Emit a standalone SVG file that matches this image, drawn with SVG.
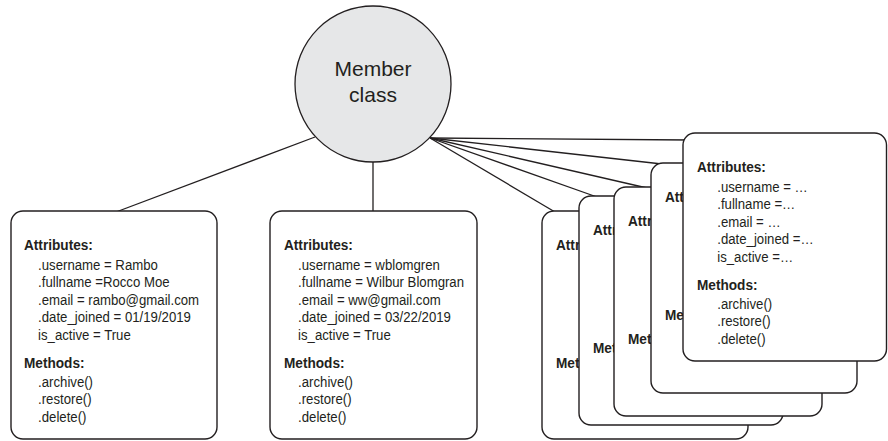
<svg xmlns="http://www.w3.org/2000/svg" width="888" height="441" viewBox="0 0 888 441">
<style>
.box{fill:#fff;stroke:#231f20;stroke-width:1.4}
.ln{stroke:#231f20;stroke-width:1.3;fill:none}
.h{font-family:"Liberation Sans",Arial,sans-serif;font-weight:bold;font-size:15.5px;fill:#231f20}
.t{font-family:"Liberation Sans",Arial,sans-serif;font-size:15px;fill:#231f20}
.c{font-family:"Liberation Sans",Arial,sans-serif;font-size:21px;fill:#231f20;text-anchor:middle}
</style>
<rect width="888" height="441" fill="#fff"/>
<g id="connectors">
<line class="ln" x1="315" y1="137" x2="116" y2="212"/>
<line class="ln" x1="373" y1="162" x2="373" y2="212"/>
<line class="ln" x1="430" y1="138" x2="555" y2="212"/>
<line class="ln" x1="430" y1="138" x2="597" y2="197"/>
<line class="ln" x1="430" y1="138" x2="647" y2="188"/>
<line class="ln" x1="430" y1="138" x2="662" y2="164"/>
<line class="ln" x1="430" y1="138" x2="690" y2="140"/>
</g>
<g id="member-class">
<circle cx="373" cy="84" r="78" fill="#e6e7e8" stroke="#231f20" stroke-width="1.3"/>
<text class="c" x="373" y="76">Member</text>
<text class="c" x="373" y="102">class</text>
</g>
<g id="member-rambo">
<rect class="box" x="11" y="211" width="206" height="228" rx="12"/>
<g transform="translate(24 0) scale(0.88 1)">
<text class="h" x="0" y="250">Attributes:</text>
<text class="t" x="16" y="270">.username = Rambo</text>
<text class="t" x="16" y="287.5">.fullname =Rocco Moe</text>
<text class="t" x="16" y="305">.email = rambo@gmail.com</text>
<text class="t" x="16" y="322.5">.date_joined = 01/19/2019</text>
<text class="t" x="16" y="340">is_active = True</text>
<text class="h" x="0" y="368">Methods:</text>
<text class="t" x="16" y="387">.archive()</text>
<text class="t" x="16" y="404.5">.restore()</text>
<text class="t" x="16" y="422">.delete()</text>
</g>
</g>
<g id="member-wblomgren">
<rect class="box" x="270" y="211" width="207" height="228" rx="12"/>
<g transform="translate(284 0) scale(0.88 1)">
<text class="h" x="0" y="250">Attributes:</text>
<text class="t" x="16" y="270">.username = wblomgren</text>
<text class="t" x="16" y="287.5">.fullname = Wilbur Blomgran</text>
<text class="t" x="16" y="305">.email = ww@gmail.com</text>
<text class="t" x="16" y="322.5">.date_joined = 03/22/2019</text>
<text class="t" x="16" y="340">is_active = True</text>
<text class="h" x="0" y="368">Methods:</text>
<text class="t" x="16" y="387">.archive()</text>
<text class="t" x="16" y="404.5">.restore()</text>
<text class="t" x="16" y="422">.delete()</text>
</g>
</g>
<g id="member-a">
<rect class="box" x="542" y="211" width="206" height="228" rx="12"/>
<g transform="translate(556 0) scale(0.88 1)">
<text class="h" x="0" y="250">Attr</text>
<text class="h" x="0" y="368">Met</text>
</g>
</g>
<g id="member-b">
<rect class="box" x="579" y="196" width="204" height="229" rx="12"/>
<g transform="translate(593 0) scale(0.88 1)">
<text class="h" x="0" y="235">Attr</text>
<text class="h" x="0" y="353">Met</text>
</g>
</g>
<g id="member-c">
<rect class="box" x="614" y="187" width="208" height="229" rx="12"/>
<g transform="translate(628 0) scale(0.88 1)">
<text class="h" x="0" y="226">Attr</text>
<text class="h" x="0" y="344">Met</text>
</g>
</g>
<g id="member-d">
<rect class="box" x="651" y="163" width="206" height="230" rx="12"/>
<g transform="translate(665 0) scale(0.88 1)">
<text class="h" x="0" y="202">Att</text>
<text class="h" x="0" y="320">Me</text>
</g>
</g>
<g id="member-e">
<rect class="box" x="683" y="133" width="203.5" height="228" rx="12"/>
<g transform="translate(697 0) scale(0.88 1)">
<text class="h" x="0" y="172">Attributes:</text>
<text class="t" x="23" y="192">.username = …</text>
<text class="t" x="23" y="209.5">.fullname =…</text>
<text class="t" x="23" y="227">.email = …</text>
<text class="t" x="23" y="244.5">.date_joined =…</text>
<text class="t" x="23" y="262">is_active =…</text>
<text class="h" x="0" y="290">Methods:</text>
<text class="t" x="23" y="309">.archive()</text>
<text class="t" x="23" y="326.5">.restore()</text>
<text class="t" x="23" y="344">.delete()</text>
</g>
</g>
</svg>
